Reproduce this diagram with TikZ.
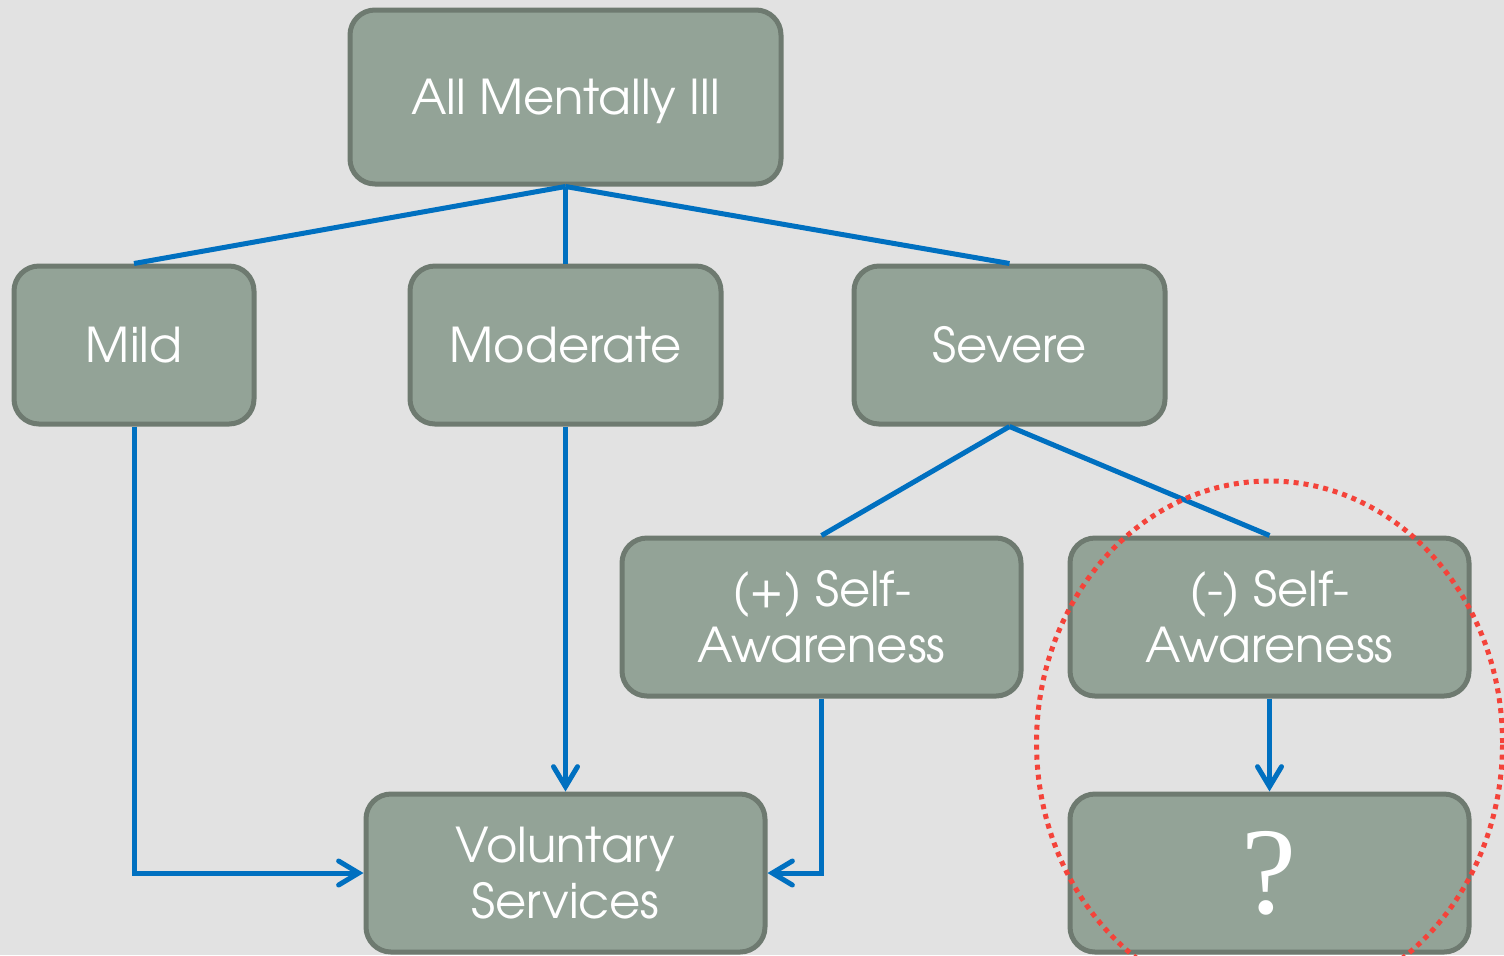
\documentclass[tikz,border=0pt]{standalone}
\usepackage{fontspec}
\setmainfont{TeX Gyre Adventor}
\newfontfamily\qfont{Liberation Serif}
\usetikzlibrary{arrows.meta}
\definecolor{bgc}{HTML}{E2E2E2}
\definecolor{boxfill}{HTML}{93A397}
\definecolor{boxline}{HTML}{6E7A70}
\definecolor{conn}{HTML}{0070C0}
\definecolor{dotred}{HTML}{F4433A}
\tikzset{
  box/.style={draw=boxline, fill=boxfill, line width=2.5pt, rounded corners=12.5pt,
    text=white, align=center, inner sep=0pt,
    font=\fontsize{24}{28}\selectfont},
  wbox/.style={box, minimum width=199.5pt, minimum height=79pt},
  mbox/.style={box, minimum width=155.5pt, minimum height=79pt},
  link/.style={draw=conn, line width=2.5pt},
  arrowlink/.style={link, -{Straight Barb[length=10pt,width=12pt,line cap=round]}},
  reddot/.style={draw=dotred, line width=2.5pt, dash pattern=on 2.5pt off 2.5pt}
}
\begin{document}
\begin{tikzpicture}[x=0.5pt,y=-0.5pt]
\fill[bgc] (0,0) rectangle (1504,955);
\useasboundingbox (0,0) rectangle (1504,955);
\node[box, minimum width=215.5pt, minimum height=87pt, text depth=0pt] (all) at (565.5,97) {All Mentally Ill};
\node[box, minimum width=120pt, minimum height=79pt] (mild) at (134,345) {Mild};
\node[mbox] (mod) at (565.5,345) {Moderate};
\node[mbox] (sev) at (1009.5,345) {Severe};
\node[wbox] (pos) at (821.5,617) {(+) Self-\\Awareness};
\node[wbox] (neg) at (1269.5,617) {(-) Self-\\Awareness};
\node[wbox] (vol) at (565.5,873) {Voluntary\\Services};
\node[wbox, font=\qfont\fontsize{62}{62}\selectfont] (q) at (1269.5,873) {?};
\draw[link] (all.south) -- (mild.north);
\draw[link] (all.south) -- (mod.north);
\draw[link] (all.south) -- (sev.north);
\draw[link] (sev.south) -- (pos.north);
\draw[link] (sev.south) -- (neg.north);
\draw[arrowlink] (mild.south) |- (vol.west);
\draw[arrowlink] (mod.south) -- (vol.north);
\draw[arrowlink] (pos.south) |- (vol.east);
\draw[arrowlink] (neg.south) -- (q.north);
\draw[reddot] (1269.5,743) ellipse [x radius=116.5pt, y radius=131pt];
\end{tikzpicture}
\end{document}
